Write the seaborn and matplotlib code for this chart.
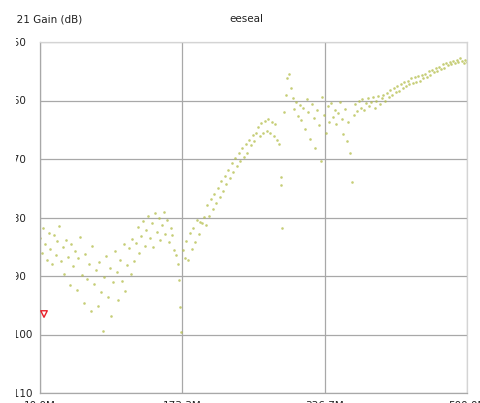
import matplotlib
matplotlib.use("Agg")
import matplotlib.pyplot as plt
from matplotlib.patches import Rectangle
import seaborn as sns
import pandas as pd

# sweep frequency (MHz) and S21 gain (dB)
freq_mhz = [
    10, 12, 14, 16, 18, 20, 22, 24, 26, 28, 30, 32, 34, 36, 38, 40, 42, 44, 46, 48,
    50, 52, 54, 56, 58, 60, 62, 64, 66, 68, 70, 72, 74, 76, 78, 80, 82, 84, 86, 88,
    90, 92, 94, 96, 98, 100, 102, 104, 106, 108, 110, 112, 114, 116, 118, 120, 122, 124, 126, 128,
    130, 132, 134, 136, 138, 140, 142, 144, 146, 148, 150, 152, 154, 156, 158, 160, 162, 164, 166, 168,
    170, 171, 172, 174, 176, 178, 180, 182, 184, 186, 188, 190, 192, 194, 196, 198, 200, 202, 204, 206,
    208, 210, 212, 214, 216, 218, 220, 222, 224, 226, 228, 230, 232, 234, 236, 238, 240, 242, 244, 246,
    248, 250, 252, 254, 256, 258, 260, 262, 264, 266, 268, 270, 272, 274, 276, 278, 280, 282, 284, 286,
    287, 288, 290, 292, 294, 296, 298, 300, 302, 304, 306, 308, 310, 312, 314, 316, 318, 320, 322, 324,
    326, 328, 330, 332, 334, 336, 338, 340, 342, 344, 346, 348, 350, 352, 354, 356, 358, 360, 362, 364,
    366, 368, 370, 372, 374, 376, 378, 380, 382, 384, 386, 388, 390, 392, 394, 396, 398, 400, 402, 404,
    406, 408, 410, 412, 414, 416, 418, 420, 422, 424, 426, 428, 430, 432, 434, 436, 438, 440, 442, 444,
    446, 448, 450, 452, 454, 456, 458, 460, 462, 464, 466, 468, 470, 472, 474, 476, 478, 480, 482, 484,
    486, 488, 490, 492, 494, 496, 498, 500,
]
gain_db = [
    -83.5, -86.0, -81.8, -84.5, -87.2, -82.6, -85.3, -88.0, -83.0, -86.4, -84.0, -81.5, -87.5, -85.0, -89.6, -83.8, -86.8, -91.5, -84.6, -88.3,
    -85.7, -92.4, -87.0, -83.4, -89.8, -94.6, -86.2, -90.5, -88.0, -96.0, -84.9, -91.3, -89.0, -95.2, -87.6, -92.8, -99.4, -90.2, -86.5, -93.6,
    -88.7, -96.8, -91.0, -85.8, -89.4, -94.1, -87.2, -90.8, -84.6, -92.5, -88.1, -85.2, -89.7, -83.6, -87.4, -84.4, -81.7, -86.0, -83.1, -80.6,
    -84.8, -82.2, -79.8, -83.5, -81.0, -85.0, -79.2, -82.4, -80.0, -83.8, -81.3, -79.0, -82.8, -80.4, -84.2, -81.8, -83.0, -85.6, -86.4, -88.0,
    -90.6, -95.3, -99.5, -85.5, -86.9, -84.1, -87.3, -82.6, -85.4, -81.8, -84.2, -80.5, -82.9, -80.8, -80.9, -79.9, -81.2, -77.9, -79.8, -76.8,
    -78.6, -76.0, -77.6, -74.9, -76.5, -73.8, -75.4, -72.9, -74.2, -71.8, -73.2, -70.7, -72.2, -69.8, -71.2, -68.9, -70.4, -68.1, -69.6, -67.4,
    -68.9, -66.8, -67.6, -65.9, -66.9, -65.6, -64.5, -66.1, -63.8, -65.6, -63.5, -65.2, -63.2, -65.5, -63.7, -66.0, -64.1, -66.8, -67.5, -73.0,
    -74.5, -81.8, -62.0, -59.0, -56.2, -55.4, -57.8, -59.6, -61.4, -60.2, -62.6, -60.8, -63.4, -61.2, -64.8, -59.8, -62.0, -66.5, -60.6, -63.0,
    -68.2, -61.6, -64.2, -70.4, -59.4, -62.4, -65.6, -61.0, -63.6, -60.4, -62.8, -61.6, -64.0, -62.2, -60.2, -63.2, -65.8, -61.4, -67.0, -63.6,
    -69.0, -74.0, -62.4, -60.6, -61.8, -60.0, -61.2, -59.8, -61.6, -60.4, -59.6, -61.0, -60.2, -59.4, -61.2, -60.0, -59.2, -60.6, -59.6, -59.0,
    -60.0, -58.8, -59.4, -58.2, -59.0, -57.8, -58.6, -57.6, -58.4, -57.2, -57.8, -56.8, -57.6, -56.6, -57.2, -56.2, -57.0, -56.0, -56.8, -55.8,
    -56.6, -55.6, -56.2, -55.4, -56.0, -55.0, -55.6, -54.8, -55.2, -54.4, -55.0, -54.2, -54.6, -53.8, -54.4, -53.6, -54.0, -53.4, -53.8, -53.2,
    -53.6, -53.0, -53.4, -52.8, -53.2, -53.6, -53.0, -53.4,
]
marker_freq = [14.6]
marker_gain = [-96.5]

x_ticks = [10, 173.3, 336.7, 500]
x_labels = ["10.0M", "173.3M", "336.7M", "500.0M"]
y_ticks = [-50, -60, -70, -80, -90, -100, -110]

df = pd.DataFrame({"freq": freq_mhz, "gain": gain_db})

sns.set_style("white")
plt.rcParams["font.family"] = ["DejaVu Sans"]

fig = plt.figure(figsize=(4.8, 4.03), dpi=100)
ax = fig.add_axes([40 / 480, 10 / 403, 427 / 480, 351 / 403])

sns.scatterplot(data=df, x="freq", y="gain", ax=ax, s=3.5, color="#b3bd4a",
                linewidth=0, alpha=0.75, legend=False)
ax.scatter(marker_freq, marker_gain, marker="v", s=22, facecolors="none",
           edgecolors="#e8202a", linewidths=1.0, zorder=5)

ax.set_xlim(10, 500)
ax.set_ylim(-110, -50)
ax.set_xticks(x_ticks)
ax.set_xticklabels(x_labels, fontsize=7.5, color="#222222")
ax.set_yticks(y_ticks)
ax.set_yticklabels([str(v) for v in y_ticks], fontsize=7.5, color="#222222")
for lab in ax.get_yticklabels():
    lab.set_horizontalalignment("left")
ax.tick_params(axis="y", length=3.6, width=0.8, color="#a8a8a8", pad=18.3)
ax.tick_params(axis="x", length=3, width=0.8, color="#a8a8a8", pad=2.5)
ax.set_xlabel("")
ax.set_ylabel("")

ax.grid(True, color="#a8a8a8", linewidth=0.9)
ax.set_axisbelow(True)
for side in ["left", "bottom"]:
    ax.spines[side].set_color("#a8a8a8")
    ax.spines[side].set_linewidth(0.9)
for side in ["top", "right"]:
    ax.spines[side].set_color("#d4d4d4")
    ax.spines[side].set_linewidth(0.9)

fig.text(9.5 / 480, 1 - 19 / 403, "S21 Gain (dB)", ha="left", va="center",
         fontsize=7.5, color="#222222")
fig.text(246 / 480, 1 - 19 / 403, "eeseal", ha="center", va="center",
         fontsize=7.5, color="#222222")

# left strip where the labels are clipped
fig.patches.append(Rectangle((0, 0), 16 / 480, 1, transform=fig.transFigure,
                             facecolor="white", edgecolor="none", zorder=10))

fig.savefig("out.png", dpi=100)
